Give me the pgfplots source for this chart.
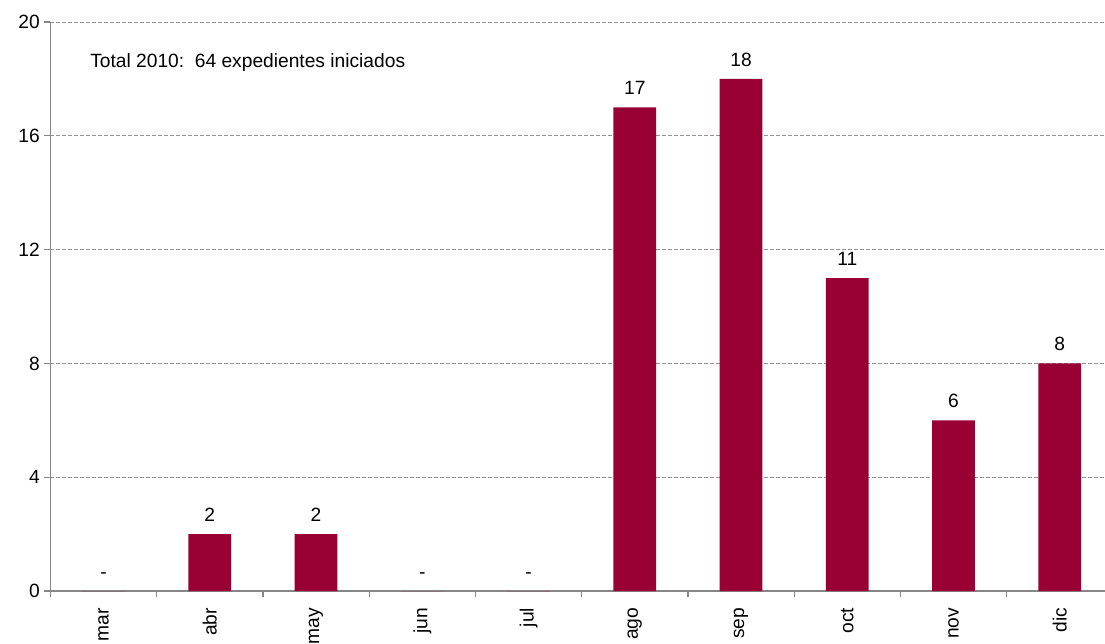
\documentclass[border=0pt]{standalone}
\usepackage{pgfplots}
\usepackage{pgfplotstable}
\pgfplotsset{compat=1.18}
\usepackage{fontspec}
\setmainfont{Liberation Sans}
\definecolor{barred}{RGB}{153,0,51}
\definecolor{axgray}{RGB}{134,134,134}
\definecolor{gridgray}{RGB}{145,145,145}
\pgfplotstableread{
x y lab
0 0 -
1 2 2
2 2 2
3 0 -
4 0 -
5 17 17
6 18 18
7 11 11
8 6 6
9 8 8
}\datatable
\newcommand{\chfont}{\fontsize{14.4pt}{16pt}\selectfont}
\begin{document}
\begin{tikzpicture}
\begin{axis}[
  at={(0,0)}, anchor=south west,
  scale only axis, width=796.9pt, height=426.75pt,
  xmin=-0.5, xmax=9.5, ymin=0, ymax=20,
  axis x line*=bottom, axis y line*=left,
  axis line style={draw=axgray, line width=0.9pt},
  tick align=outside,
  major tick length=4.5pt,
  tick style={draw=axgray, line width=0.9pt},
  ytick={0,4,...,20},
  yticklabels={0\hspace{4pt},4\hspace{4pt},8\hspace{4pt},12\hspace{4pt},16\hspace{4pt},20\hspace{4pt}},
  ymajorgrids,
  grid style={draw=gridgray, dash pattern=on 3pt off 1.5pt, line width=0.6pt},
  xtick={-0.5,0.5,...,9.5},
  xticklabels={},
  extra x ticks={0,...,9},
  extra x tick labels={mar,abr,may,jun,jul,ago,sep,oct,nov,dic},
  extra x tick style={major tick length=0pt, grid=none,
    tick label style={rotate=90, anchor=east, inner xsep=12.5pt}},
  ticklabel style={font=\chfont, text=black},
  ybar, bar width=32pt,
  nodes near coords={\pgfplotspointmeta},
  point meta=explicit symbolic,
  every node near coord/.append style={font=\chfont, text=black, anchor=south, yshift=6pt},
  clip=false,
]
\addplot[fill=barred, draw=none] table[x=x, y=y, meta=lab] {\datatable};
\node[anchor=west, font=\chfont, inner sep=0pt] at (rel axis cs:0.0373,0.928) {Total 2010:\ \ 64 expedientes iniciados};
\end{axis}
\pgfresetboundingbox
\path[use as bounding box] (-37.8pt,-39pt) rectangle (790.95pt,443.25pt);
\end{tikzpicture}
\end{document}
